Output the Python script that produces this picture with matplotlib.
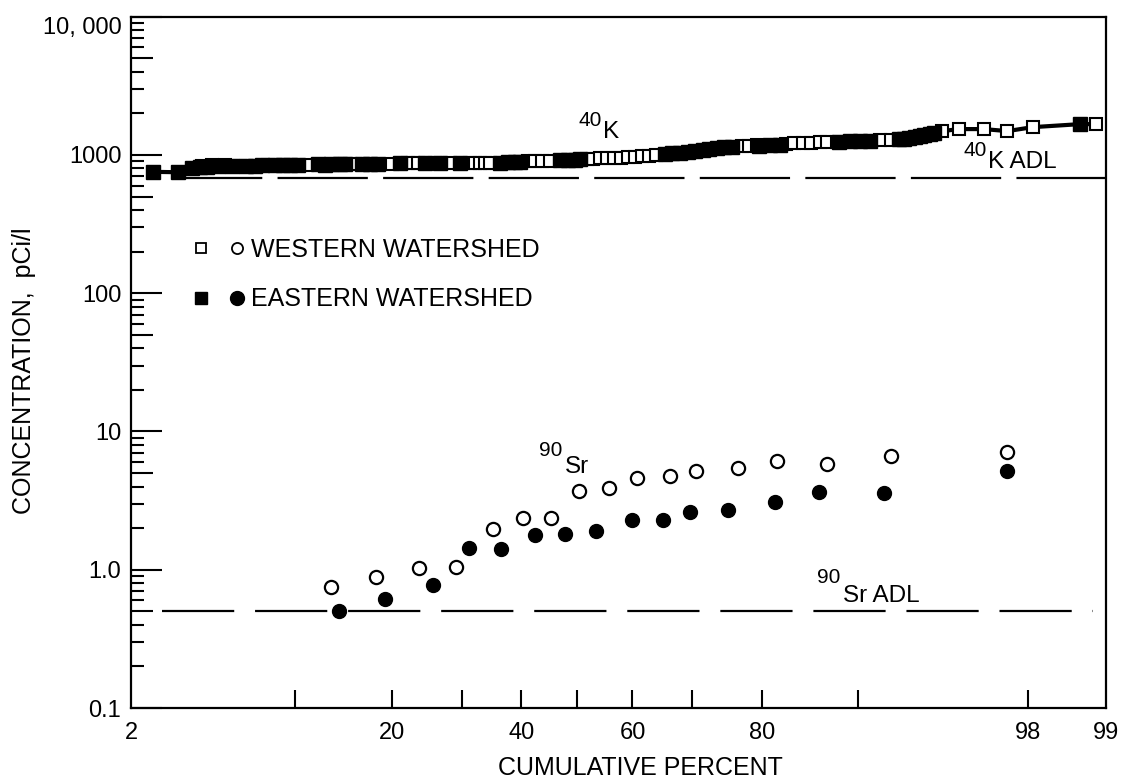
"""
Cumulative distribution of 40K and 90Sr concentrations
(western vs eastern watershed) on a probability scale.
"""

from statistics import NormalDist

import numpy as np
import matplotlib
matplotlib.use("Agg")
import matplotlib.pyplot as plt
from matplotlib.lines import Line2D
from matplotlib.legend_handler import HandlerTuple

# ---- data ----
# 40K, western watershed (open squares)
k_west_pct = [4.40, 4.84, 5.47, 6.26, 7.99, 11.0, 15.1, 15.6, 20.0, 22.1,
              22.8, 23.5, 25.9, 28.2, 31.3, 32.1, 33.0, 33.8, 34.6, 41.2,
              42.4, 43.7, 45.1, 51.8, 52.9, 54.2, 55.4, 56.7, 57.9, 59.2,
              60.4, 61.6, 62.8, 64.0, 77.4, 78.4, 79.4, 83.0, 83.9, 84.8,
              85.7, 86.6, 87.3, 88.2, 91.6, 92.4, 95.2, 95.9, 96.8, 97.5,
              98.1, 99.1]
k_west_val = [835, 840, 842, 838, 840, 850, 858, 858, 866, 868,
              868, 870, 872, 874, 876, 877, 878, 879, 880, 900,
              903, 906, 908, 935, 940, 943, 946, 950, 955, 960,
              966, 975, 985, 995, 1155, 1165, 1172, 1210, 1215, 1222,
              1228, 1235, 1240, 1245, 1275, 1285, 1488, 1539, 1539, 1488,
              1589, 1671]

# 40K, eastern watershed (filled squares)
k_east_pct = [2.69, 3.47, 3.99, 4.32, 4.62, 5.12, 5.82, 6.61, 7.15, 7.59,
              8.47, 9.05, 9.58, 10.2, 11.9, 12.6, 13.2, 14.0, 14.6, 16.4,
              17.3, 18.3, 21.0, 24.5, 26.7, 29.7, 36.3, 37.7, 38.9, 39.8,
              46.9, 48.4, 49.6, 50.5, 65.6, 66.7, 68.0, 69.3, 70.4, 71.7,
              72.7, 73.9, 74.9, 76.0, 79.7, 81.0, 82.2, 88.4, 89.3, 90.1,
              90.9, 92.9, 93.2, 93.5, 93.8, 94.1, 94.3, 94.6, 94.8, 98.9]
k_east_val = [755, 750, 810, 820, 825, 830, 830, 835, 835, 840,
              840, 845, 840, 845, 855, 850, 855, 860, 858, 860,
              862, 865, 868, 872, 870, 876, 880, 885, 888, 892,
              915, 920, 925, 930, 1010, 1025, 1040, 1055, 1070, 1085,
              1110, 1125, 1135, 1145, 1170, 1180, 1190, 1245, 1255, 1262,
              1270, 1300, 1315, 1330, 1350, 1370, 1390, 1410, 1440, 1671]

# 90Sr, western (open circles) and eastern (filled circles)
sr_west_pct = [13.2, 18.0, 23.6, 29.1, 35.1, 40.3, 45.3, 50.4, 55.8, 60.8,
               66.4, 70.7, 76.8, 81.9, 87.3, 92.4, 97.5]
sr_west_val = [0.755, 0.89, 1.03, 1.05, 1.97, 2.37, 2.37, 3.70, 3.89, 4.59,
               4.75, 5.15, 5.42, 6.08, 5.79, 6.61, 7.06]
sr_east_pct = [13.9, 19.1, 25.6, 31.2, 36.5, 42.4, 47.8, 53.4, 59.9, 65.2,
               69.6, 75.4, 81.6, 86.5, 91.9, 97.5]
sr_east_val = [0.50, 0.61, 0.78, 1.44, 1.42, 1.79, 1.82, 1.91, 2.29, 2.29,
               2.61, 2.70, 3.09, 3.64, 3.58, 5.15]

# detection limits
k_adl = 680
sr_adl = 0.5

# axis ticks
x_ticks = [10, 20, 30, 40, 50, 60, 70, 80, 90, 98]
x_tick_labels = ['', '20', '', '40', '', '60', '', '80', '', '98']
y_ticks = [0.1, 1, 10, 100, 1000, 10000]
y_tick_labels = ['0.1', '1.0', '10', '100', '1000', '10, 000']

plt.rcParams['font.family'] = ['Liberation Sans', 'DejaVu Sans']
plt.rcParams['lines.scale_dashes'] = False

_nd = NormalDist()


def prob_fwd(p):
    """percent -> standard normal quantile"""
    p = np.clip(np.asarray(p, dtype=float) / 100.0, 1e-9, 1 - 1e-9)
    out = [np.nan if np.isnan(v) else _nd.inv_cdf(v) for v in p.ravel()]
    return np.array(out).reshape(p.shape)


def prob_inv(z):
    z = np.asarray(z, dtype=float)
    out = [np.nan if np.isnan(v) else _nd.cdf(v) * 100.0 for v in z.ravel()]
    return np.array(out).reshape(z.shape)


fig = plt.figure(figsize=(11.22, 7.84), dpi=100)
ax = fig.add_axes([0.1168, 0.0969, 0.8689, 0.8818])
ax.set_xscale('function', functions=(prob_fwd, prob_inv))
ax.set_yscale('log')
ax.set_xlim(2.12, 99.2)
ax.set_ylim(0.1, 10000)

# 40K: connecting line through all samples, then markers
k_pct = np.array(k_west_pct + k_east_pct)
k_val = np.array(k_west_val + k_east_val)
order = np.argsort(k_pct)
ax.plot(k_pct[order], k_val[order], color='black', lw=3, zorder=2)
ax.plot(k_west_pct, k_west_val, ls='none', marker='s', ms=8.5,
        mfc='white', mec='black', mew=1.5, zorder=3)
ax.plot(k_east_pct, k_east_val, ls='none', marker='s', ms=9.5,
        mfc='black', mec='black', zorder=4)

# 90Sr
ax.plot(sr_west_pct, sr_west_val, ls='none', marker='o', ms=9.5,
        mfc='white', mec='black', mew=1.6, zorder=3)
ax.plot(sr_east_pct, sr_east_val, ls='none', marker='o', ms=10,
        mfc='black', mec='black', zorder=3)

# detection limits
ax.axhline(k_adl, xmin=0.042, xmax=1.0, color='black', lw=1.6,
           dashes=(65, 11), zorder=1)
ax.axhline(sr_adl, xmin=0.032, xmax=0.987, color='black', lw=1.6,
           dashes=(52, 15), zorder=1)

# labels on the curves (superscript mass number + element)
notes = [
    (0.4831, 0.8495, '40', 0.4841, 0.8336, 'K'),
    (0.8779, 0.8060, '40', 0.8790, 0.7901, 'K ADL'),
    (0.4421, 0.3719, '90', 0.4451, 0.3488, 'Sr'),
    (0.7272, 0.1881, '90', 0.7303, 0.1621, 'Sr ADL'),
]
for xs, ys, sup, xm, ym, main in notes:
    ax.text(xs, ys, sup, transform=ax.transAxes, fontsize=15,
            ha='right', va='center')
    ax.text(xm, ym, main, transform=ax.transAxes, fontsize=17.5,
            ha='left', va='center')

# legend
w_sq = Line2D([], [], ls='none', marker='s', ms=7, mfc='white', mec='black', mew=1.3)
w_ci = Line2D([], [], ls='none', marker='o', ms=8, mfc='white', mec='black', mew=1.3)
e_sq = Line2D([], [], ls='none', marker='s', ms=9, mfc='black', mec='black')
e_ci = Line2D([], [], ls='none', marker='o', ms=10, mfc='black', mec='black')
ax.legend([(w_sq, w_ci), (e_sq, e_ci)], ['WESTERN WATERSHED', 'EASTERN WATERSHED'],
          handler_map={tuple: HandlerTuple(ndivide=None, pad=0.95)},
          loc='upper left', bbox_to_anchor=(0.065, 0.680), frameon=False,
          fontsize=18, handlelength=1.95, handletextpad=0.3,
          labelspacing=1.02, borderpad=0, borderaxespad=0)

# axes and ticks
for sp in ax.spines.values():
    sp.set_linewidth(1.6)

ax.set_xticks(x_ticks, labels=x_tick_labels)
ax.xaxis.set_minor_locator(matplotlib.ticker.NullLocator())
ax.tick_params(axis='x', which='major', direction='in', length=13, width=1.5,
               labelsize=17, pad=10)

ax.set_yticks(y_ticks, labels=y_tick_labels)
ax.yaxis.set_minor_locator(matplotlib.ticker.LogLocator(base=10, subs=np.arange(2, 10)))
ax.yaxis.set_minor_formatter(matplotlib.ticker.NullFormatter())
ax.tick_params(axis='y', which='major', direction='in', length=22, width=1.5,
               labelsize=17, pad=7)
ax.tick_params(axis='y', which='minor', direction='in', length=9, width=1.5)

# the 5-ticks are drawn longer than the other minor ticks
minor_locs = ax.yaxis.get_minorticklocs()
for tick, loc in zip(ax.yaxis.get_minor_ticks(len(minor_locs)), minor_locs):
    mant = loc / 10 ** np.floor(np.log10(loc) + 1e-9)
    if abs(mant - 5) < 1e-6:
        tick.tick1line.set_markersize(16)

ax.get_yticklabels()[-1].set_va('top')

# end labels of the probability axis
ax.text(0.0, -0.0195, '2', transform=ax.transAxes, fontsize=17,
        ha='center', va='top')
ax.text(1.0, -0.0195, '99', transform=ax.transAxes, fontsize=17,
        ha='center', va='top')

ax.set_xlabel('CUMULATIVE PERCENT', fontsize=18)
ax.xaxis.set_label_coords(0.522, -0.070)
ax.set_ylabel('CONCENTRATION,  pCi/l', fontsize=18)
ax.yaxis.set_label_coords(-0.098, 0.488)

fig.savefig('out.png', dpi=100)
